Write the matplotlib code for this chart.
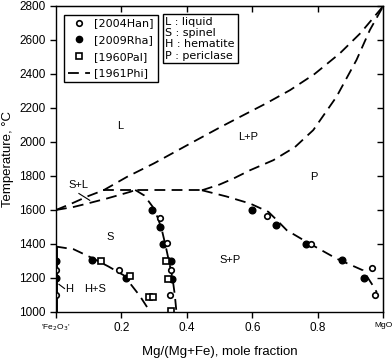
import matplotlib
matplotlib.use('Agg')
from matplotlib import pyplot as plt
from matplotlib.lines import Line2D

plt.rcParams['font.family'] = ['Liberation Sans', 'DejaVu Sans']

# measured points
han_x = [0.0, 0.0, 0.194, 0.317, 0.339, 0.350, 0.349, 0.644, 0.778, 0.964, 0.976]
han_t = [1250, 1100, 1250, 1553, 1405, 1250, 1100, 1562, 1398, 1256, 1102]

rha_x = [0.0, 0.0, 0.110, 0.214, 0.293, 0.319, 0.326, 0.352, 0.354, 0.600, 0.672, 0.764, 0.873, 0.941]
rha_t = [1300, 1200, 1303, 1200, 1600, 1498, 1398, 1300, 1197, 1600, 1510, 1398, 1308, 1200]

pal_x = [0.138, 0.227, 0.285, 0.297, 0.336, 0.341, 0.352]
pal_t = [1300, 1213, 1090, 1090, 1298, 1192, 1004]

liq_x = [0.0, 0.05, 0.10, 0.145, 0.217, 0.30, 0.41, 0.50, 0.5625, 0.64, 0.715, 0.79, 0.867, 0.93, 1.0]
liq_t = [1600, 1640, 1683, 1716, 1795, 1875, 1991, 2085, 2148, 2225, 2305, 2400, 2521, 2640, 2800]

sl_x = [0.0, 0.054, 0.10, 0.156, 0.20, 0.227, 0.242]
sl_t = [1600, 1618, 1640, 1668, 1692, 1707, 1718]

sp_x = [0.242, 0.27, 0.295, 0.312, 0.325, 0.336, 0.346, 0.356, 0.363, 0.368]
sp_t = [1718, 1685, 1620, 1550, 1470, 1380, 1290, 1200, 1100, 1000]

eut_x = [0.145, 0.446]
eut_t = [1716, 1716]

per_x = [0.446, 0.50, 0.542, 0.593, 0.664, 0.73, 0.786, 0.857, 0.918, 0.959, 1.0]
per_t = [1716, 1750, 1785, 1834, 1893, 1970, 2070, 2266, 2482, 2659, 2800]

spp_x = [0.446, 0.52, 0.593, 0.649, 0.675, 0.705, 0.766, 0.857, 0.938, 0.974, 0.98]
spp_t = [1716, 1680, 1638, 1589, 1540, 1481, 1412, 1314, 1245, 1138, 1115]

hs_x = [0.0, 0.054, 0.11, 0.16, 0.207, 0.256, 0.288]
hs_t = [1385, 1369, 1318, 1268, 1216, 1095, 1000]

fig = plt.figure(figsize=(3.92, 3.58), dpi=100)
ax = fig.add_axes([56 / 392, 46 / 358, 327.3 / 392, 306 / 358])

dash = dict(color='k', lw=1.3, dashes=(6, 3.5))
for xs, ts in [(liq_x, liq_t), (sl_x, sl_t), (sp_x, sp_t), (eut_x, eut_t),
               (per_x, per_t), (spp_x, spp_t), (hs_x, hs_t)]:
    ax.plot(xs, ts, **dash)

# hematite line
ax.plot([0, 0], [1000, 1385], color='k', lw=2.8, solid_capstyle='butt')
# leaders
ax.plot([0.009, 0.026], [1163, 1138], color='k', lw=0.8)
ax.plot([0.07, 0.103], [1697, 1657], color='k', lw=0.8)

ax.plot(rha_x, rha_t, 'o', ms=4.8, mfc='k', mec='k')
ax.plot(han_x, han_t, 'o', ms=4.0, mfc='white', mec='k', mew=1.2)
ax.plot(pal_x, pal_t, 's', ms=4.3, mfc='white', mec='k', mew=1.2)

fs = 8
ax.text(0.195, 2093, 'L', fontsize=fs, ha='center', va='center')
ax.text(0.588, 2030, 'L+P', fontsize=fs, ha='center', va='center')
ax.text(0.788, 1795, 'P', fontsize=fs, ha='center', va='center')
ax.text(0.532, 1308, 'S+P', fontsize=fs, ha='center', va='center')
ax.text(0.166, 1442, 'S', fontsize=fs, ha='center', va='center')
ax.text(0.069, 1746, 'S+L', fontsize=fs, ha='center', va='center')
ax.text(0.12, 1133, 'H+S', fontsize=fs, ha='center', va='center')
ax.text(0.04, 1133, 'H', fontsize=fs, ha='center', va='center')

handles = [
    Line2D([], [], ls='none', marker='o', ms=4, mfc='white', mec='k', mew=1.2),
    Line2D([], [], ls='none', marker='o', ms=4.5, mfc='k', mec='k'),
    Line2D([], [], ls='none', marker='s', ms=4.3, mfc='white', mec='k', mew=1.2),
    Line2D([], [], color='k', lw=1.3, dashes=(6, 3.5)),
]
labels = ['[2004Han]', '[2009Rha]', '[1960Pal]', '[1961Phi]']
leg = ax.legend(handles, labels, loc='upper left', bbox_to_anchor=(0.025, 0.972),
                prop={'family': 'DejaVu Sans', 'size': 8}, frameon=True,
                fancybox=False, edgecolor='k', framealpha=1,
                borderpad=0.35, labelspacing=0.6, handlelength=2.0,
                handletextpad=0.35, borderaxespad=0)
leg.get_frame().set_linewidth(1.0)

ax.text(0.334, 2735, 'L : liquid\nS : spinel\nH : hematite\nP : periclase',
        fontsize=8, family='DejaVu Sans', va='top', ha='left', linespacing=1.15,
        bbox=dict(boxstyle='square,pad=0.25', fc='white', ec='k', lw=1.0))

ax.set_xlim(0, 1)
ax.set_ylim(1000, 2800)
ax.set_xticks([0, 0.2, 0.4, 0.6, 0.8, 1.0])
ax.set_xticklabels(["'Fe$_2$O$_3$'", '0.2', '0.4', '0.6', '0.8', 'MgO'])
ax.set_yticks(range(1000, 2801, 200))
for i, lab in enumerate(ax.get_xticklabels()):
    if i in (0, 5):
        lab.set_fontsize(6)
    else:
        lab.set_fontsize(8.5)
ax.tick_params(axis='y', labelsize=8.5)
ax.tick_params(direction='out', length=4, width=1)

top = ax.secondary_xaxis('top')
top.set_xticks([0.2, 0.4, 0.6, 0.8])
top.tick_params(direction='in', length=4, width=1, labeltop=False)
right = ax.secondary_yaxis('right')
right.set_yticks(range(1200, 2801, 200))
right.tick_params(direction='in', length=4, width=1, labelright=False)

for s in ax.spines.values():
    s.set_linewidth(1.0)

ax.set_xlabel('Mg/(Mg+Fe), mole fraction', fontsize=9.5, labelpad=8)
ax.set_ylabel('Temperature, °C', fontsize=9.5, labelpad=4)

fig.savefig('out.png', dpi=100)
